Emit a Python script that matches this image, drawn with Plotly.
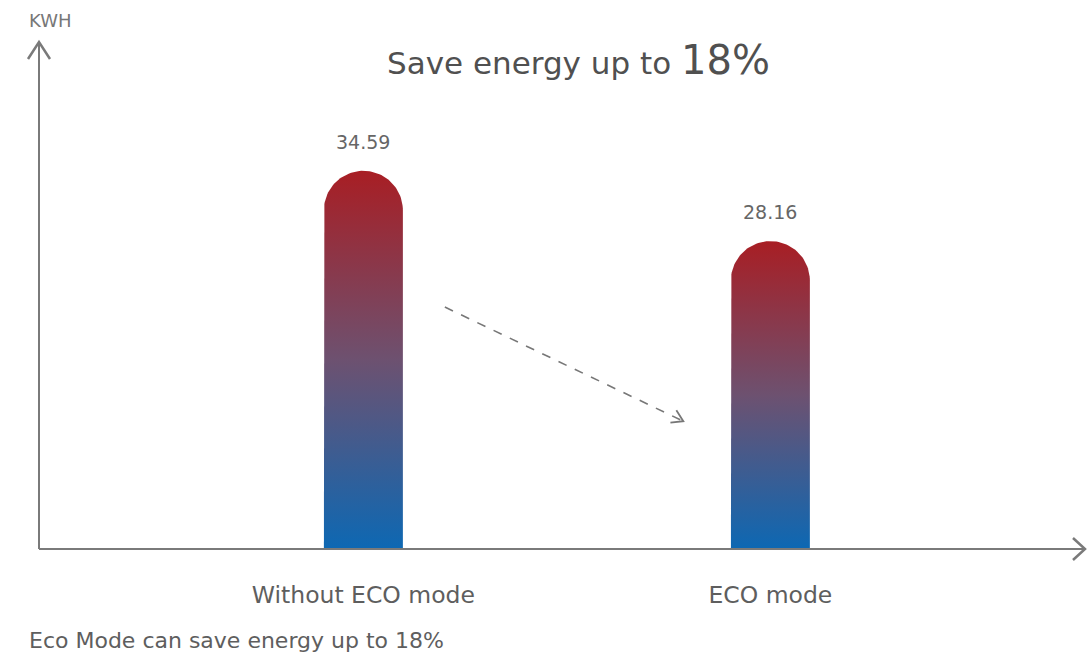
import math
import plotly.graph_objects as go

# ---- data ----
categories = ["Without ECO mode", "ECO mode"]
values = [34.59, 28.16]
value_labels = ["34.59", "28.16"]
y_unit = "KWH"
title_main = "Save energy up to "
title_big = "18%"
footnote = "Eco Mode can save energy up to 18%"

# ---- layout constants ----
W, H = 1089, 656
ML, MR, MT, MB = 39, 4, 46, 107
X_RANGE = [-0.797, 1.773]
Y_RANGE = [0, 46.0]
BAR_WIDTH = 0.194
GRAY = "#7a7a7a"
TEXT = "#5e5e5e"
FONT = "DejaVu Sans"
colorscale = [[0.0, "#0d68b3"], [0.5, "#6d5170"], [1.0, "#a81e24"]]

plot_w = W - ML - MR
plot_h = H - MT - MB
px_per_x = plot_w / (X_RANGE[1] - X_RANGE[0])
px_per_y = plot_h / (Y_RANGE[1] - Y_RANGE[0])

fig = go.Figure()

# rounded-top gradient bars built from the data values
half = BAR_WIDTH / 2
r_px = half * px_per_x
ry = r_px / px_per_y
for i, v in enumerate(values):
    xs, ys = [i - half], [0]
    shoulder = v - ry
    xs.append(i - half); ys.append(shoulder)
    n = 60
    for k in range(n + 1):
        a = math.pi - math.pi * k / n
        xs.append(i + half * math.cos(a))
        ys.append(shoulder + ry * math.sin(a))
    xs.append(i + half); ys.append(0)
    xs.append(i - half); ys.append(0)
    fig.add_trace(go.Scatter(
        x=xs, y=ys, mode="lines", fill="toself",
        line=dict(width=0, color="rgba(0,0,0,0)"),
        fillgradient=dict(type="vertical", colorscale=colorscale, start=0, stop=v),
        hoverinfo="skip", showlegend=False,
    ))
    fig.add_annotation(x=i, y=v, text=value_labels[i], showarrow=False,
                       yanchor="bottom", yshift=16,
                       font=dict(family=FONT, size=19, color="#666666"))

# axes lines with open arrowheads
fig.add_shape(type="line", xref="paper", yref="paper", x0=0, y0=0, x1=1, y1=0,
              line=dict(color=GRAY, width=2))
fig.add_shape(type="line", xref="paper", yref="paper", x0=0, y0=0, x1=0, y1=1.008,
              line=dict(color=GRAY, width=2))
fig.add_shape(type="path", xref="paper", yref="paper", xsizemode="pixel", ysizemode="pixel",
              xanchor=1, yanchor=0, path="M -12 11 L 0 0 L -12 -11",
              line=dict(color=GRAY, width=2.5))
fig.add_shape(type="path", xref="paper", yref="paper", xsizemode="pixel", ysizemode="pixel",
              xanchor=0, yanchor=1.008, path="M -11 -17 L 0 0 L 11 -17",
              line=dict(color=GRAY, width=2.5))

# dashed trend arrow between the bars
ax0, ay0 = 0.388, 0.481
ax1, ay1 = 0.616, 0.254
fig.add_shape(type="line", xref="paper", yref="paper", x0=ax0, y0=ay0, x1=ax1, y1=ay1,
              line=dict(color="#777777", width=1.6, dash="dash"))
dx = (ax1 - ax0) * plot_w
dy = (ay1 - ay0) * plot_h
L = math.hypot(dx, dy)
ux, uy = dx / L, dy / L
arm = 13
pts = []
for s in (1, -1):
    ang = s * math.radians(32)
    bx = -(ux * math.cos(ang) - uy * math.sin(ang)) * arm
    by = -(ux * math.sin(ang) + uy * math.cos(ang)) * arm
    pts.append((bx, by))
path = f"M {pts[0][0]:.2f} {pts[0][1]:.2f} L 0 0 L {pts[1][0]:.2f} {pts[1][1]:.2f}"
fig.add_shape(type="path", xref="paper", yref="paper", xsizemode="pixel", ysizemode="pixel",
              xanchor=ax1, yanchor=ay1, path=path, line=dict(color="#777777", width=1.8))

# texts
fig.add_annotation(xref="paper", yref="paper", x=-0.011, y=1.0, yshift=26,
                   text=y_unit, showarrow=False, xanchor="left", yanchor="middle",
                   font=dict(family=FONT, size=18, color="#777777"))
fig.add_annotation(xref="paper", yref="paper", x=0.516, y=1.0, yshift=-14,
                   text=f"{title_main}<span style='font-size:40px'>{title_big}</span>",
                   showarrow=False, xanchor="center", yanchor="middle",
                   font=dict(family=FONT, size=31, color="#505050"))
fig.add_annotation(xref="paper", yref="paper", x=-0.011, y=0, yshift=-91,
                   text=footnote, showarrow=False, xanchor="left", yanchor="middle",
                   font=dict(family=FONT, size=22, color=TEXT))

fig.update_layout(
    width=W, height=H,
    margin=dict(l=ML, r=MR, t=MT, b=MB),
    paper_bgcolor="white", plot_bgcolor="white",
    xaxis=dict(range=X_RANGE, showgrid=False, zeroline=False, showline=False,
               tickvals=list(range(len(categories))), ticktext=categories,
               ticks="", ticklabelstandoff=29,
               tickfont=dict(family=FONT, size=23.5, color=TEXT), fixedrange=True),
    yaxis=dict(range=Y_RANGE, showgrid=False, zeroline=False, showline=False,
               showticklabels=False, ticks="", fixedrange=True),
    showlegend=False,
)

fig.write_html("out.html", config={"displayModeBar": False},
               post_script="document.body.style.margin='0px';")
